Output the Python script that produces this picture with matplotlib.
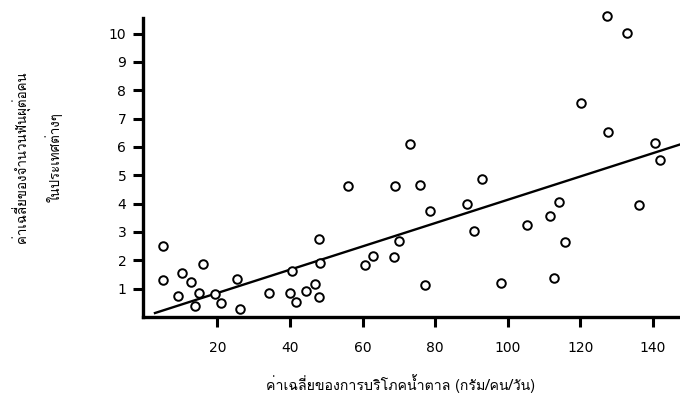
import matplotlib
matplotlib.use('Agg')
import matplotlib.pyplot as plt
from matplotlib import font_manager
from matplotlib.ft2font import FT2Font

# sugar intake (g/person/day) vs. mean decayed teeth per person, by country
sugar = [4.9, 5.1, 9.2, 10.2, 12.6, 13.8, 14.8, 16.1, 19.3, 20.9, 25.3, 26.1,
         34.1, 39.9, 40.6, 41.6, 44.5, 46.8, 47.9, 47.9, 48.3, 56.0, 60.8, 63.0,
         68.7, 68.9, 70.0, 73.0, 75.9, 77.1, 78.5, 88.9, 90.7, 93.0, 98.3, 105.2,
         111.7, 112.7, 114.1, 115.8, 120.2, 127.4, 127.6, 133.0, 136.2, 140.5, 141.9]
teeth = [2.52, 1.32, 0.73, 1.55, 1.22, 0.40, 0.85, 1.87, 0.81, 0.49, 1.34, 0.28,
         0.83, 0.85, 1.61, 0.52, 0.93, 1.15, 2.75, 0.69, 1.89, 4.61, 1.85, 2.16,
         2.13, 4.61, 2.69, 6.11, 4.67, 1.13, 3.75, 3.97, 3.05, 4.86, 1.20, 3.23,
         3.56, 1.39, 4.05, 2.65, 7.54, 10.62, 6.52, 10.02, 3.95, 6.15, 5.55]

# fitted line
intercept = 0.025
slope = 0.0411
line_start = 2.8

x_ticks = [20, 40, 60, 80, 100, 120, 140]
y_ticks = [1, 2, 3, 4, 5, 6, 7, 8, 9, 10]

x_label = 'ค่าเฉลี่ยของการบริโภคน้ำตาล (กรัม/คน/วัน)'
y_label1 = 'ค่าเฉลี่ยของจำนวนฟันผุต่อคน'
y_label2 = 'ในประเทศต่างๆ'

# find a font with thai glyphs
thai_font = None
for f in font_manager.fontManager.ttflist:
    try:
        if 0x0E04 in FT2Font(f.fname).get_charmap():
            thai_font = f.name
            break
    except Exception:
        pass
families = ([thai_font] if thai_font else []) + ['DejaVu Sans']
plt.rcParams['font.family'] = ['DejaVu Sans']

fig = plt.figure(figsize=(6.8, 3.96), dpi=100)
ax = fig.add_axes([143 / 680, 1 - 317 / 396, 1 - 143 / 680, 299 / 396])

ax.scatter(sugar, teeth, s=38, facecolors='white', edgecolors='black',
           linewidths=1.4, zorder=3, clip_on=False)

xmax = 147.5
ax.plot([line_start, xmax], [intercept + slope * line_start, intercept + slope * xmax],
        color='black', lw=1.7, zorder=2)

ax.set_xlim(-0.5, xmax)
ax.set_ylim(0, 10.55)
ax.set_xticks(x_ticks)
ax.set_yticks(y_ticks)
for s in ['top', 'right']:
    ax.spines[s].set_visible(False)
for s in ['left', 'bottom']:
    ax.spines[s].set_linewidth(2.4)
ax.tick_params(axis='both', direction='out', length=7, width=2.2, labelsize=10)
ax.tick_params(axis='x', pad=10)
ax.tick_params(axis='y', pad=5)

fig.text(401 / 680, 1 - 384 / 396, x_label, ha='center', va='center',
         fontsize=10.2, family=families)
fig.text(21 / 680, 1 - 157 / 396, y_label1, ha='center', va='center',
         rotation=90, fontsize=9.6, family=families)
fig.text(54 / 680, 1 - 157 / 396, y_label2, ha='center', va='center',
         rotation=90, fontsize=9.6, family=families)

fig.savefig('out.png', dpi=100)
